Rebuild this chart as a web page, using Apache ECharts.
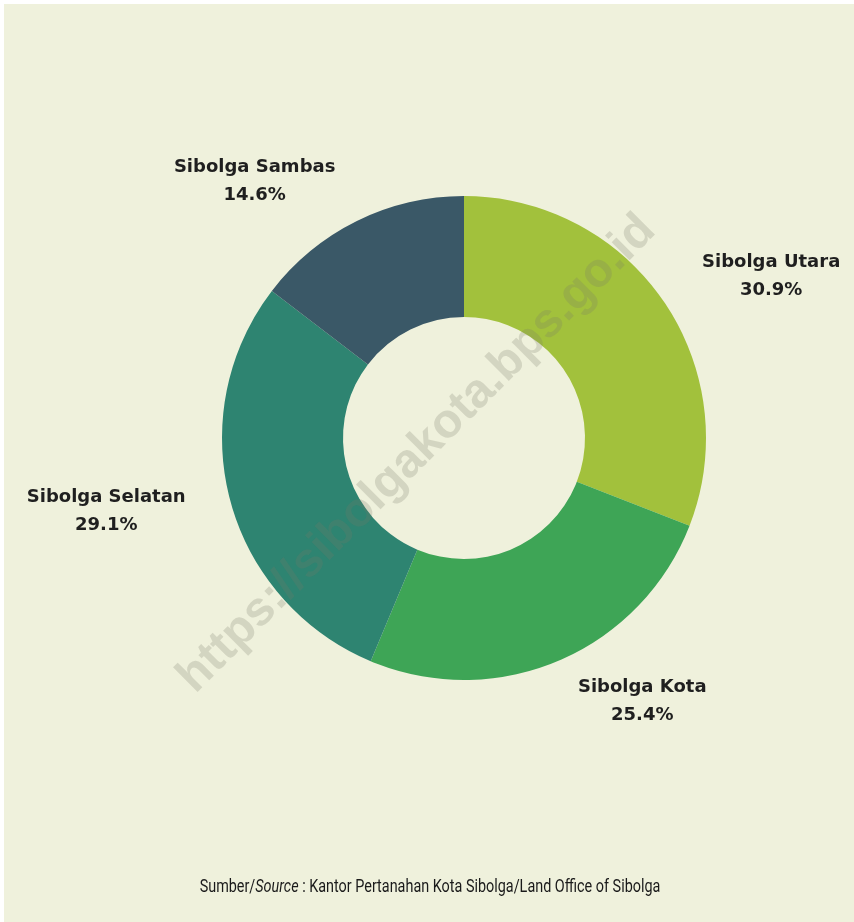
<!DOCTYPE html>
<html lang="id">
<head>
  <meta charset="UTF-8">
  <title>Sibolga</title>
  <script src="https://cdn.jsdelivr.net/npm/echarts@6/dist/echarts.min.js"></script>
  <style>
    body { margin: 0; background: #ffffff; }
    #chart { position: absolute; left: 4px; top: 4px; width: 850px; height: 918px; }
  </style>
</head>
<body>
<div id="chart"></div>
<script>
  const districts = ["Sibolga Utara", "Sibolga Kota", "Sibolga Selatan", "Sibolga Sambas"];
  const shares = [30.9, 25.4, 29.1, 14.6];
  const colors = ["#a2c13c", "#3ea556", "#2e8471", "#3a5867"];

  const footFont = "'Liberation Sans Narrow', 'Roboto', sans-serif";

  const chart = echarts.init(document.getElementById("chart"));
  chart.setOption({
    backgroundColor: "#eff1dc",
    animation: false,
    graphic: [{
      type: "text",
      x: 413, y: 450,
      rotation: Math.PI / 4,
      z: 100,
      style: {
        text: "https://sibolgakota.bps.go.id",
        fontFamily: "'Liberation Sans', Arial, sans-serif",
        fontWeight: "bold",
        fontSize: 48,
        fill: "rgba(120,120,105,0.23)",
        align: "center",
        verticalAlign: "middle"
      }
    }, {
      // source note, squeezed to look like a condensed face
      type: "text",
      x: 426, y: 883,
      scaleX: 0.8,
      style: {
        text: "{n|Sumber/}{i|Source}{n| : Kantor Pertanahan Kota Sibolga/Land Office of Sibolga}",
        align: "center",
        verticalAlign: "middle",
        rich: {
          n: { fontFamily: footFont, fontSize: 18, fill: "#1a1a1a" },
          i: { fontFamily: footFont, fontSize: 18, fontStyle: "italic", fill: "#1a1a1a" }
        }
      }
    }],
    series: [{
      type: "pie",
      center: [460, 434],
      radius: [121, 242],
      startAngle: 90,
      avoidLabelOverlap: false,
      itemStyle: { borderWidth: 0 },
      label: {
        position: "outside",
        distanceToLabelLine: 2,
        formatter: p => "{a|" + p.name + "}\n{a|" + p.value.toFixed(1) + "%}",
        rich: {
          a: {
            fontFamily: "'DejaVu Sans', sans-serif",
            fontWeight: "bold",
            fontSize: 18,
            lineHeight: 28,
            color: "#1f1f1f",
            align: "center"
          }
        }
      },
      labelLine: { show: false, length: 44, length2: 0 },
      data: districts.map((d, i) => ({ name: d, value: shares[i], itemStyle: { color: colors[i] } }))
    }]
  });
</script>
</body>
</html>
